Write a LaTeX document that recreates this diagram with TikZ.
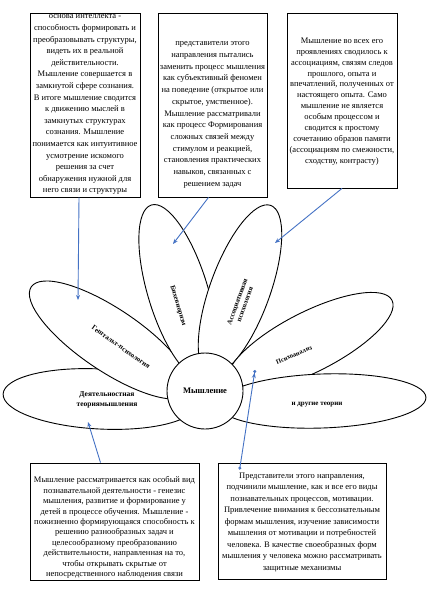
\documentclass[tikz,border=0pt]{standalone}
\usepackage{fontspec}
\setmainfont{Liberation Serif}
\usetikzlibrary{arrows.meta,positioning,shapes.geometric}
\definecolor{linkblue}{RGB}{68,114,196}

\begin{document}
\begin{tikzpicture}[x=1pt,y=-1pt,
    petal/.style={ellipse, draw, fill=white, line width=0.9pt, inner sep=0pt},
    infobox/.style={draw, line width=0.8pt, inner sep=0pt},
    boxtext/.style={font=\fontsize{8.5}{#1}\selectfont, align=center, inner sep=0pt, anchor=north},
    petaltext/.style={font=\fontsize{7}{8}\selectfont\bfseries, align=center, inner sep=0pt},
    link/.style={linkblue, line width=0.9pt, -{Stealth[length=5pt,width=4pt]}}]
        \useasboundingbox (0,0) rectangle (437,592);
        % petals, back to front
        \node[petal, minimum width=194pt, minimum height=60pt, rotate=-3] (activity) at (100,399) {};
        \node[petal, minimum width=190pt, minimum height=62pt, rotate=-34] (gestalt) at (110,340) {};
        \node[petal, minimum width=182pt, minimum height=60pt, rotate=-73] (behav) at (178,292) {};
        \node[petal, minimum width=180pt, minimum height=60pt, rotate=70] (assoc) at (240,290) {};
        \node[petal, minimum width=184pt, minimum height=60pt, rotate=27] (psycho) at (310,342) {};
        \node[petal, minimum width=208pt, minimum height=54pt, rotate=2] (other) at (322,401) {};
        \node[circle, draw, fill=white, line width=0.9pt, minimum size=76pt, inner sep=0pt,
              font=\fontsize{8.5}{10}\selectfont\bfseries] (think) at (205,391) {Мышление};
        % petal labels
        \node[petaltext, rotate=-35] (gestaltlbl) at (121,347) {Гештальт-психология};
        \node[petaltext, rotate=-73] (behavlbl) at (178,306) {Бихевиоризм};
        \node[petaltext, rotate=70] (assoclbl) at (241,303) {Ассоциативная\\психология};
        \node[petaltext, rotate=23, font=\fontsize{6.5}{8}\selectfont\bfseries] (psycholbl) at (294,355) {Психоанализ};
        \node[petaltext, font=\fontsize{7.5}{9.5}\selectfont\bfseries] (activitylbl) at (107,400) {Деятельностная\\теориямышления};
        \node[petaltext, font=\fontsize{7}{8}\selectfont\bfseries] (otherlbl) at (317,405) {и другие теории};
        % text boxes
        \node[infobox, minimum width=110pt, minimum height=184pt] (gbox) at (85,105) {};
        \node[boxtext=11.6] (gtext) at ([yshift=-2pt]gbox.north) {основа интеллекта -\\способность формировать и\\преобразовывать структуры,\\видеть их в реальной\\действительности.\\Мышление совершается в\\замкнутой сфере сознания.\\В итоге мышление сводится\\к движению мыслей в\\замкнутых структурах\\сознания. Мышление\\понимается как интуитивное\\усмотрение искомого\\решения за счет\\обнаружения нужной для\\него связи и структуры};
        \node[infobox, minimum width=109pt, minimum height=184pt] (bbox) at (212.5,105) {};
        \node[boxtext=11.7] (btext) at ([yshift=-29pt]bbox.north) {представители этого\\направления пытались\\заменить процесс мышления\\как субъективный феномен\\на поведение (открытое или\\скрытое, умственное).\\Мышление рассматривали\\как процесс Формирования\\сложных связей между\\стимулом и реакцией,\\становления практических\\навыков, связанных с\\решением задач};
        \node[infobox, minimum width=110pt, minimum height=175pt] (abox) at (342,100.5) {};
        \node[boxtext=10.9] (atext) at ([yshift=-25pt]abox.north) {Мышление во всех его\\проявлениях сводилось к\\ассоциациям, связям следов\\прошлого, опыта и\\впечатлений, полученных от\\настоящего опыта. Само\\мышление не является\\особым процессом и\\сводится к простому\\сочетанию образов памяти\\(ассоциациям по смежности,\\сходству, контрасту)};
        \node[infobox, minimum width=169pt, minimum height=117pt] (dbox) at (114.5,521.5) {};
        \node[boxtext=10.4] (dtext) at ([yshift=-14pt]dbox.north) {Мышление рассматривается как особый вид\\познавательной деятельности - генезис\\мышления, развитие и формирование у\\детей в процессе обучения. Мышление -\\пожизненно формирующаяся способность к\\решению разнообразных задач и\\целесообразному преобразованию\\действительности, направленная на то,\\чтобы открывать скрытые от\\непосредственного наблюдения связи};
        \node[infobox, minimum width=168pt, minimum height=116pt] (pbox) at (302,521) {};
        \node[boxtext=11.5] (ptext) at ([yshift=-10pt]pbox.north) {Представители этого направления,\\подчинили мышление, как и все его виды\\познавательных процессов, мотивации.\\Привлечение внимания к бессознательным\\формам мышления, изучение зависимости\\мышления от мотивации и потребностей\\человека. В качестве своеобразных форм\\мышления у человека можно рассматривать\\защитные механизмы};
        % connectors
        \coordinate (gtip) at (78,300);
        \coordinate (btip) at (173,244);
        \coordinate (atip) at (275,243);
        \coordinate (dtip) at (88,422);
        \coordinate (ptip) at (255,370);
        \draw[link] ([xshift=-6pt]gbox.south) -- (gtip);
        \draw[link] ([xshift=-4pt]bbox.south) -- (btip);
        \draw[link] (abox.south) -- (atip);
        \draw[link] ([xshift=-14pt]dbox.north) -- (dtip);
        \draw[linkblue, line width=0.9pt, {Circle[open,length=3pt]}-{Stealth[length=5pt,width=4pt] Circle[open,length=3pt]}]
             ([shift={(22pt,-7pt)}]pbox.north west) -- (ptip);
      \end{tikzpicture}
\end{document}
